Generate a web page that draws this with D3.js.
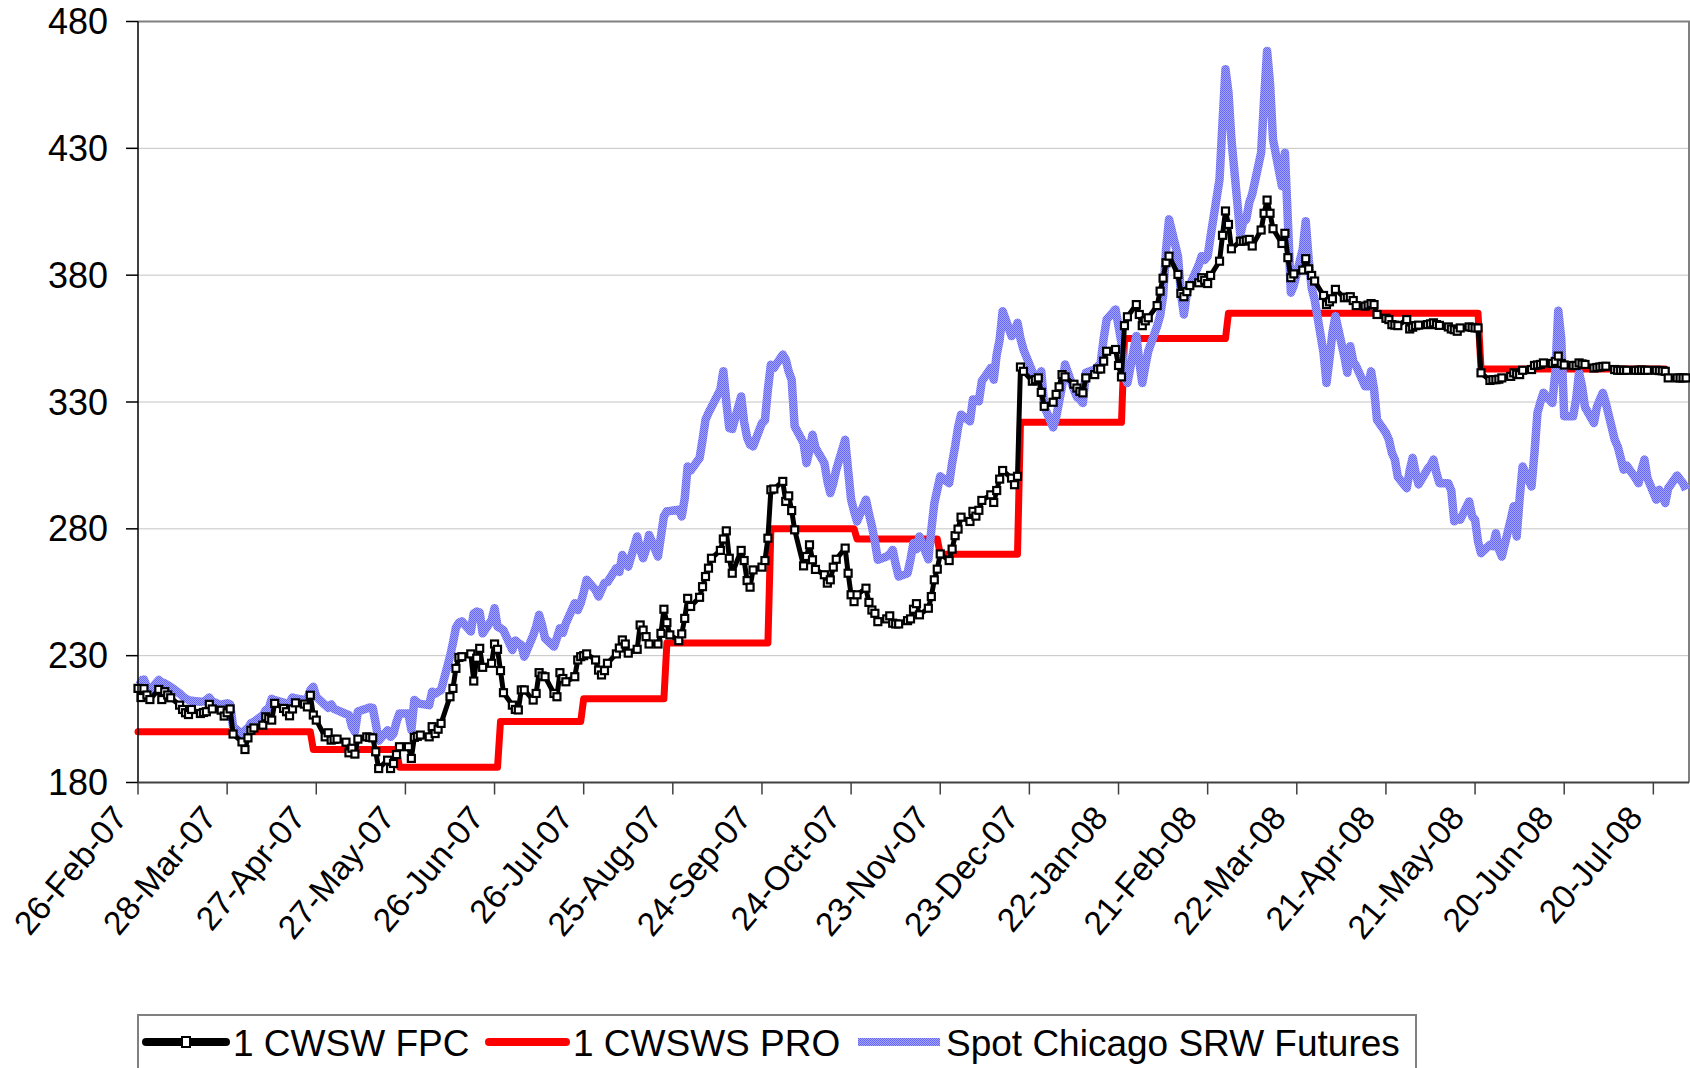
<!DOCTYPE html>
<html>
<head>
<meta charset="utf-8">
<script src="https://cdnjs.cloudflare.com/ajax/libs/d3/7.8.5/d3.min.js"></script>
<style>
  body { margin: 0; background: #fff; }
  svg { display: block; font-family: "Liberation Sans", Arial, sans-serif; }
</style>
</head>
<body>
<div id="chart"></div>
<script>
// tick labels
var yTicks = [180, 230, 280, 330, 380, 430, 480];
var xTickLabels = ["26-Feb-07", "28-Mar-07", "27-Apr-07", "27-May-07", "26-Jun-07", "26-Jul-07",
  "25-Aug-07", "24-Sep-07", "24-Oct-07", "23-Nov-07", "23-Dec-07", "22-Jan-08", "21-Feb-08",
  "22-Mar-08", "21-Apr-08", "21-May-08", "20-Jun-08", "20-Jul-08"];

// series names
var seriesNames = ["1 CWSW FPC", "1 CWSWS PRO", "Spot Chicago SRW Futures"];

// first and last trading day (values below are one per weekday)
var firstDay = "26-Feb-07";
var lastDay = "31-Jul-08";

// 1 CWSW FPC, one value per weekday
var fpcValues = [
  217.1, 213.5, 217, 214.5, 212.7,  216.7, 212.7, 215.8, 214.5, 213.4,
  210.5, 208.8, 207.5, 206.8, 208.8,  207.2, 207.6, 207.9, 210.8, 209,
  208.5, 206.2, 207.5, 209, 199.1,  196, 193, 197.6, 200.6, 201.5,
  202.6, 205.9, 205.2, 204.6, 211.2,  209.2, 207.9, 206.3, 209, 211.4,
  210.9, 209.8, 214.4, 206.6, 204.6,  198, 199.6, 196.7, 197, 197.1,
  195.9, 191.7, 193.5, 191.2, 197.1,  198, 197.8, 197.6, 192.1, 185.5,
  188.8, 185.5, 187.5, 191, 194.1,  194.1, 189.5, 197.8, 198.2, 198.7,
  198, 202, 199.3, 201, 203.3,  213.8, 217.1, 225, 229.3, 229.6,
  230.7, 220, 229, 232.9, 225.4,  227, 234.6, 232.5, 224.1, 215.4,
  210.5, 208.8, 208.6, 216.5, 216.5,  212.5, 215.1, 223.3, 222, 221.7,
  215.1, 213.8, 223.3, 221, 219.7,  221.7, 228.3, 229.6, 230, 230.7,
  228.3, 224.3, 222.4, 224.1, 227,  230.7, 233, 236.2, 234.6, 231,
  232.5, 242.1, 240.1, 237.5, 234.6,  234.6, 238.8, 248.3, 243, 238.2,
  235.9, 238.6, 244.7, 252.6, 249.4,  253, 257.2, 261.2, 264.5, 268.4,
  271.5, 276, 279.2, 268.4, 262.5,  271.5, 267.5, 259.6, 257, 263.8,
  264.9, 267.5, 276.3, 295.4, 295.7,  298.7, 290.8, 293, 287.2, 279.6,
  265.4, 269.1, 273.7, 267.8, 264,  261.9, 258.6, 259.9, 264.9, 268,
  272.4, 262.5, 254, 251.3, 254,  256.6, 251, 248, 246.7, 243.4,
  244.5, 245.7, 242.8, 242.5, 242.5,  243.8, 244.5, 248.3, 250.5, 246.1,
  248.7, 253.3, 259.9, 264.1, 270.1,  267.5, 272, 277.3, 279.9, 284.6,
  282.9, 286.9, 285, 287.3, 291.2,  293.4, 290.4, 295.1, 299.6, 303,
  300, 297.4, 300.7, 343.8, 342.1,  338.2, 338.8, 339.5, 333.8, 328.3,
  329.9, 333, 336, 340.8, 339.9,  337, 335.5, 334.2, 333.6, 339.5,
  340.8, 343, 343, 346.1, 350,  350.7, 344.4, 339.9, 360.1, 363.6,
  368.4, 364.5, 360.1, 362, 363.2,  368, 373.7, 378.8, 384.9, 387.5,
  380.3, 372.8, 371.5, 373.5, 375.9,  377, 379, 378, 376.7, 379.9,
  385.5, 395.7, 405.3, 400, 390.4,  393.4, 393.4, 393.8, 394.1, 391.5,
  397.8, 404.4, 409.6, 404.4, 398.3,  392.5, 396.5, 386.9, 379, 380.5,
  382, 386.5, 382.5, 379.9, 377.7,  372, 368.4, 369.5, 370.7, 374.4,
  371.1, 371.3, 371.5, 370, 368,  367.8, 368.2, 368.8, 368.4, 364.5,
  363, 362.5, 360.5, 360.3, 360.1,  362.5, 358.8, 359.5, 360.1, 360.3,
  360.5, 360.8, 361.2, 360.5, 360.2,  359.6, 358.8, 358.5, 357.9, 359.2,
  359.6, 359.4, 359.2, 359.2, 341.5,  338.5, 338.8, 338.8, 339, 339.5,
  340.1, 341.5, 341, 340.8, 342.5,  342.8, 344.4, 344.6, 344.8, 345.4,
  345.2, 346, 348.1, 345.2, 344.6,  344.4, 344.4, 345.4, 345, 344.8,
  343.4, 343.6, 343.8, 344, 344.1,  342.8, 342.5, 342.5, 342.5, 342.5,
  342.5, 342.5, 342.6, 342.5, 342.5,  342.5, 342.4, 342.3, 342.1, 339.5,
  339.5, 339.5, 339.5, 339.5
];

// Spot Chicago SRW Futures, one value per weekday
var spotValues = [
  220.8, 220, 220.6, 217.5, 216.4,  220.4, 219.5, 219.1, 218.4, 217.7,
  215.1, 214, 213.1, 212.5, 212.2,  211.8, 212, 212.5, 213.5, 212,
  210.5, 211, 211.2, 210.8, 202,  199, 200.6, 201.5, 203.3, 203.9,
  206.5, 208.5, 209.2, 213, 212.5,  211.5, 210.5, 211.5, 213.5, 213.1,
  212.5, 213, 216.4, 217.7, 213.8,  210.5, 209.5, 210.8, 209, 208.5,
  207, 206.6, 202, 200, 208,  209.2, 209.6, 209.4, 203.3, 196.5,
  200.6, 198, 199.3, 203.9, 207.2,  207.2, 200.7, 212.5, 211.5, 211,
  210.5, 215.8, 215, 215.8, 216.4,  229.6, 235, 241, 243, 243.5,
  239.5, 246.7, 247.4, 247, 238.8,  244, 248.7, 241.5, 240.8, 240,
  232.2, 236, 235, 234.2, 229.6,  238, 241.5, 246.1, 242, 236.8,
  233.6, 237, 240.8, 239, 242.8,  250.7, 248, 250.7, 255, 259.9,
  255.9, 253.3, 256, 258.6, 259,  264.5, 263, 269.7, 267, 265.1,
  277, 272, 268.4, 272, 277.6,  269.1, 277, 285, 286.9, 287,
  287.5, 284.9, 292, 304.6, 303,  307.9, 315, 323, 325.7, 328,
  334.9, 342.1, 330, 319.7, 319.4,  332.2, 322, 316, 313.2, 312.5,
  321.7, 322.8, 335, 344.7, 343.4,  348.7, 346.7, 342, 338.8, 320.4,
  313.8, 305.9, 311, 317.1, 312,  305.9, 299, 294.1, 298, 303.3,
  315.1, 303, 291.5, 287, 282.9,  291.5, 286, 281, 275, 267.8,
  269.1, 270, 271.7, 266, 261.2,  262.5, 268, 274.4, 272, 277,
  268, 279.6, 290, 295.4, 300.7,  298, 306, 312.5, 320, 325,
  322.4, 331, 330.8, 330.3, 338.2,  343.4, 338.8, 348.7, 354.6, 365.8,
  356, 358, 361.2, 355, 350.7,  342, 338.2, 340, 342.1, 328.3,
  320, 324, 330, 336.2, 344.8,  334.9, 332, 331, 329.6, 341.5,
  342.8, 344, 345.4, 355, 362.5,  366.5, 360, 353.3, 340, 337.5,
  356, 346, 337.5, 344, 350,  359.9, 364, 371.7, 390, 402,
  387.5, 373.1, 364.5, 373.1, 376,  384, 387.5, 386, 387.5, 395.4,
  417.8, 440, 461.2, 452, 433.5,  396, 401, 402, 408.6, 412,
  428.3, 449.4, 468.4, 455.3, 433.5,  415.1, 428.3, 401.3, 373.1, 376,
  390.2, 401.3, 386.2, 375, 370.4,  349.4, 337.5, 347, 357.3, 363.8,
  348, 341.5, 352, 346, 344.1,  336.2, 336.2, 342.1, 335, 323,
  317.8, 315.1, 310, 307.3, 300.5,  296, 303, 308, 302, 297.5,
  303.5, 305, 307.3, 302, 298,  298, 295, 283, 284, 283.6,
  290.8, 285, 283.6, 275, 270.4,  273.7, 273.1, 278.3, 272, 269.1,
  283.6, 288.9, 277, 292, 304.6,  296.7, 310, 325.7, 330, 333.6,
  329.6, 341.5, 366, 355, 324.4,  324.4, 331, 341.5, 336.2, 328,
  321.7, 328, 331, 333.6, 329.6,  315.1, 312.5, 308, 303.3, 305,
  300, 298, 303, 307.3, 300,  291.5, 295.4, 293, 290.2, 296,
  301, 299.4, 298, 295.4
];

// 1 CWSWS PRO: step levels and the day each level starts
var proStarts = ["26-Feb-07", "26-Apr-07", "25-May-07", "28-Jun-07", "26-Jul-07", "23-Aug-07",
  "27-Sep-07", "26-Oct-07", "23-Nov-07", "20-Dec-07", "24-Jan-08", "28-Feb-08", "23-May-08"];
var proLevels = [200, 193, 186, 204, 213, 235, 280, 276, 270, 322, 355, 365, 343];
var proEnd = "24-Jul-08";

function drawChart() {
  var parse = d3.timeParse("%d-%b-%y");
  var fmt = d3.timeFormat("%d-%b-%y");

  var W = 1690, H = 1068;
  var plotLeft = 138, plotRight = 1689, plotTop = 21.5, plotBottom = 782.5;

  var svg = d3.select("#chart").append("svg")
    .attr("width", W)
    .attr("height", H);

  // dithered blue like the original fill
  var defs = svg.append("defs");
  var pat = defs.append("pattern")
    .attr("id", "dither")
    .attr("patternUnits", "userSpaceOnUse")
    .attr("width", 2).attr("height", 2);
  pat.append("rect").attr("width", 2).attr("height", 2).attr("fill", "#a2a2ff");
  pat.append("rect").attr("width", 1).attr("height", 1).attr("fill", "#6464f2");
  pat.append("rect").attr("x", 1).attr("y", 1).attr("width", 1).attr("height", 1).attr("fill", "#6c6cf6");

  var x = d3.scaleTime()
    .domain([parse(firstDay), d3.timeDay.offset(parse(lastDay), 1)])
    .range([plotLeft, plotRight]);

  var y = d3.scaleLinear()
    .domain([180, 480])
    .range([plotBottom, plotTop]);

  // trading days (weekdays) carry the daily values
  var tradingDays = d3.timeDay.range(parse(firstDay), d3.timeDay.offset(parse(lastDay), 1))
    .filter(function(d) { return d.getDay() !== 0 && d.getDay() !== 6; });

  var fpc = tradingDays.map(function(d, i) { return {date: d, value: fpcValues[i]}; });
  var spot = tradingDays.map(function(d, i) { return {date: d, value: spotValues[i]}; });

  var starts = proStarts.map(parse);
  var pro = tradingDays.filter(function(d) { return d <= parse(proEnd); })
    .map(function(d) {
      var i = d3.bisectRight(starts, d) - 1;
      return {date: d, value: proLevels[i]};
    });

  // gridlines
  svg.append("g").selectAll("line")
    .data(yTicks.slice(1, -1))
    .enter().append("line")
    .attr("x1", plotLeft).attr("x2", plotRight)
    .attr("y1", function(d) { return y(d); })
    .attr("y2", function(d) { return y(d); })
    .attr("stroke", "#c4c4c4")
    .attr("stroke-width", 1);

  // plot border (top, right)
  svg.append("path")
    .attr("d", "M" + plotLeft + "," + plotTop + "H" + plotRight + "V" + plotBottom)
    .attr("fill", "none")
    .attr("stroke", "#808080")
    .attr("stroke-width", 2);

  var line = d3.line()
    .x(function(d) { return x(d.date); })
    .y(function(d) { return y(d.value); });

  // PRO (red)
  svg.append("path")
    .datum(pro)
    .attr("d", line)
    .attr("fill", "none")
    .attr("stroke", "#ff0000")
    .attr("stroke-width", 7)
    .attr("stroke-linejoin", "round")
    .attr("stroke-linecap", "round");

  // Spot (blue)
  svg.append("path")
    .datum(spot)
    .attr("d", line)
    .attr("fill", "none")
    .attr("stroke", "url(#dither)")
    .attr("stroke-width", 8.5)
    .attr("stroke-linejoin", "round");

  // FPC (black with markers)
  svg.append("path")
    .datum(fpc)
    .attr("d", line)
    .attr("fill", "none")
    .attr("stroke", "#000")
    .attr("stroke-width", 5)
    .attr("stroke-linejoin", "round");

  svg.append("g").selectAll("rect")
    .data(fpc)
    .enter().append("rect")
    .attr("x", function(d) { return x(d.date) - 3.5; })
    .attr("y", function(d) { return y(d.value) - 3.5; })
    .attr("width", 7).attr("height", 7)
    .attr("fill", "#fff")
    .attr("stroke", "#000")
    .attr("stroke-width", 2.2);

  // y axis
  var yAxis = svg.append("g");
  yAxis.append("line")
    .attr("x1", plotLeft).attr("x2", plotLeft)
    .attr("y1", plotTop).attr("y2", plotBottom)
    .attr("stroke", "#000").attr("stroke-width", 1.5);
  yAxis.selectAll(".tick")
    .data(yTicks)
    .enter().append("line")
    .attr("x1", plotLeft - 12).attr("x2", plotLeft)
    .attr("y1", function(d) { return y(d); })
    .attr("y2", function(d) { return y(d); })
    .attr("stroke", "#000").attr("stroke-width", 1.5);
  yAxis.selectAll("text")
    .data(yTicks)
    .enter().append("text")
    .attr("x", 108)
    .attr("y", function(d) { return y(d); })
    .attr("dy", "0.35em")
    .attr("text-anchor", "end")
    .attr("font-size", 36)
    .text(function(d) { return d; });

  // x axis
  var xTicks = xTickLabels.map(parse);
  var xAxis = svg.append("g");
  xAxis.append("line")
    .attr("x1", plotLeft).attr("x2", plotRight)
    .attr("y1", plotBottom).attr("y2", plotBottom)
    .attr("stroke", "#404040").attr("stroke-width", 2);
  xAxis.selectAll(".tick")
    .data(xTicks)
    .enter().append("line")
    .attr("x1", function(d) { return x(d); })
    .attr("x2", function(d) { return x(d); })
    .attr("y1", plotBottom).attr("y2", plotBottom + 12)
    .attr("stroke", "#404040").attr("stroke-width", 1.5);
  xAxis.selectAll("text")
    .data(xTicks)
    .enter().append("text")
    .attr("transform", function(d) { return "translate(" + (x(d) - 9) + "," + (plotBottom + 36) + ") rotate(-50)"; })
    .attr("text-anchor", "end")
    .attr("font-size", 33.5)
    .text(function(d) { return fmt(d); });

  // legend
  var lg = svg.append("g");
  lg.append("rect")
    .attr("x", 138).attr("y", 1015)
    .attr("width", 1278).attr("height", 80)
    .attr("fill", "#fff")
    .attr("stroke", "#808080").attr("stroke-width", 2);

  var legendItems = [
    {name: seriesNames[0], x0: 146, x1: 226, tx: 233, stroke: "#000", marker: true},
    {name: seriesNames[1], x0: 489, x1: 566, tx: 573, stroke: "#ff0000", marker: false},
    {name: seriesNames[2], x0: 858, x1: 940, tx: 946, stroke: "url(#dither)", marker: false}
  ];
  var ly = 1042;
  legendItems.forEach(function(it) {
    lg.append("line")
      .attr("x1", it.x0).attr("x2", it.x1)
      .attr("y1", ly).attr("y2", ly)
      .attr("stroke", it.stroke)
      .attr("stroke-width", 8)
      .attr("stroke-linecap", it.marker || it.stroke === "#ff0000" ? "round" : "butt");
    if (it.marker) {
      lg.append("rect")
        .attr("x", (it.x0 + it.x1) / 2 - 4).attr("y", ly - 5)
        .attr("width", 8).attr("height", 10)
        .attr("fill", "#fff").attr("stroke", "#000").attr("stroke-width", 2);
    }
    lg.append("text")
      .attr("x", it.tx).attr("y", 1056)
      .attr("font-size", 37)
      .text(it.name);
  });
}

drawChart();
</script>
</body>
</html>
